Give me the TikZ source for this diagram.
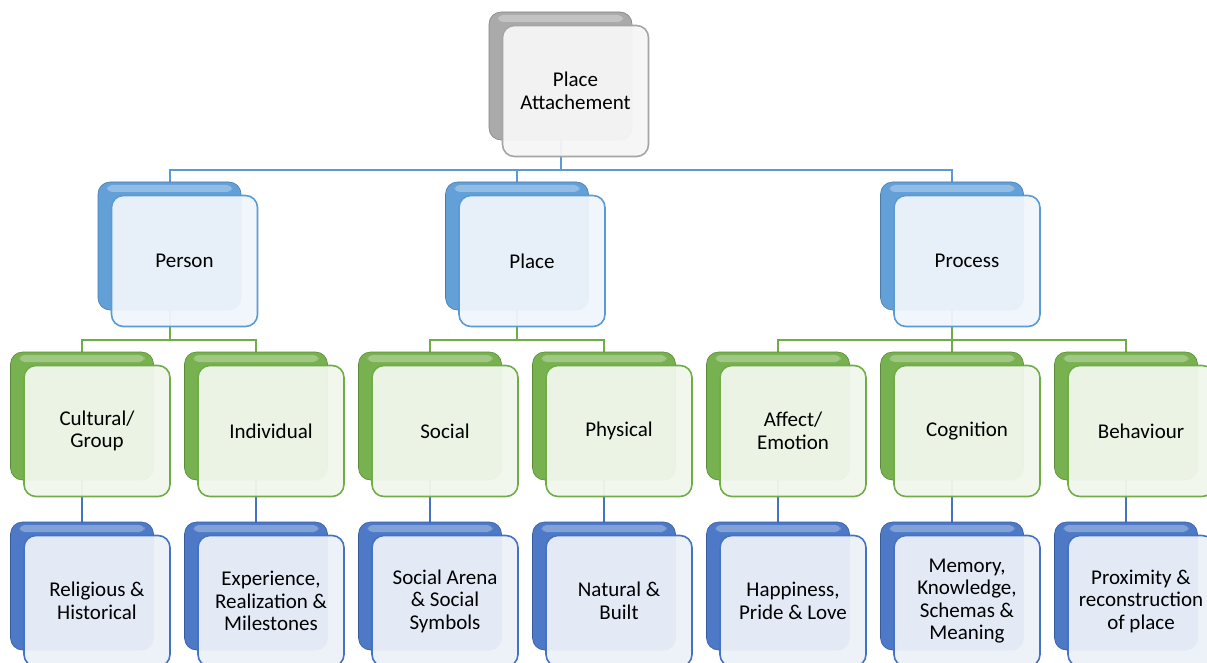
\documentclass[tikz,border=0pt]{standalone}
\usepackage{fontspec}
\setmainfont{Carlito}
\usetikzlibrary{backgrounds}

\definecolor{rootgray}{HTML}{A5A5A5}
\definecolor{lvltwo}{HTML}{5B9BD5}
\definecolor{lvlthree}{HTML}{70AD47}
\definecolor{lvlfour}{HTML}{4472C4}

\tikzset{
  backbox/.style={rounded corners=12pt, minimum width=143pt, minimum height=128pt,
    inner sep=0pt, draw=#1!80!black, line width=0.6pt, fill=#1!95!white,
    path picture={\fill[white,opacity=0.3,rounded corners=5pt]
      ([xshift=9pt,yshift=-3pt]path picture bounding box.north west) rectangle
      ([xshift=-9pt,yshift=-10pt]path picture bounding box.north east);}},
  frontbox/.style={rounded corners=12pt, minimum width=146pt, minimum height=131pt,
    inner sep=0pt, draw=#1, line width=1.6pt, fill=#1!10!white, fill opacity=0.95,
    text opacity=1, align=center, font=\fontsize{21}{22.5}\selectfont},
  link/.style={draw=#1, line width=2pt},
}

\begin{document}
\begin{tikzpicture}[x=1pt,y=-1pt]
  \useasboundingbox (0,0) rectangle (1207,663);
  \clip (0,0) rectangle (1207,663);
  % root
  \node[backbox=rootgray] (broot) at (560.5,76) {};
  \node[frontbox=rootgray] (root) at (575.5,91) {Place\\Attachement};
  % second row
  \foreach \n/\x/\t in {person/169.5/Person, place/517/Place, process/952/Process}{
    \node[backbox=lvltwo] (b\n) at (\x,246) {};
    \node[frontbox=lvltwo,xshift=15pt] (\n) at (\x,261) {\t};
  }
  % third row
  \foreach \n/\x/\t in {cultural/82/{Cultural/\\Group}, individual/256/Individual,
      social/430/Social, physical/604/Physical, affect/778/{Affect/\\Emotion},
      cognition/952/Cognition, behaviour/1126/Behaviour}{
    \node[backbox=lvlthree] (b\n) at (\x,416) {};
    \node[frontbox=lvlthree,xshift=15pt] (\n) at (\x,431) {\t};
  }
  % fourth row
  \foreach \n/\x/\t in {religious/82/{Religious \&\\Historical},
      experience/256/{Experience,\\Realization \&\\Milestones},
      arena/430/{Social Arena\\\& Social\\Symbols},
      natural/604/{Natural \&\\Built},
      happiness/778/{Happiness,\\Pride \& Love},
      memory/952/{Memory,\\Knowledge,\\Schemas \&\\Meaning},
      proximity/1126/{Proximity \&\\reconstruction\\of place}}{
    \node[backbox=lvlfour] (b\n) at (\x,586) {};
    \node[frontbox=lvlfour,xshift=15pt] (\n) at (\x,601) {\t};
  }
  % connectors
  \begin{scope}[on background layer]
    \foreach \c in {person,place,process}
      \draw[link=lvltwo] (broot.south) -- ++(0,30) -| (b\c.north);
    \foreach \p/\c in {person/cultural, person/individual, place/social, place/physical,
        process/affect, process/cognition, process/behaviour}
      \draw[link=lvlthree] (b\p.south) -- ++(0,30) -| (b\c.north);
    \foreach \c/\d in {cultural/religious, individual/experience, social/arena,
        physical/natural, affect/happiness, cognition/memory, behaviour/proximity}
      \draw[link=lvlfour] (b\c.south) -- (b\d.north);
  \end{scope}
\end{tikzpicture}
\end{document}
